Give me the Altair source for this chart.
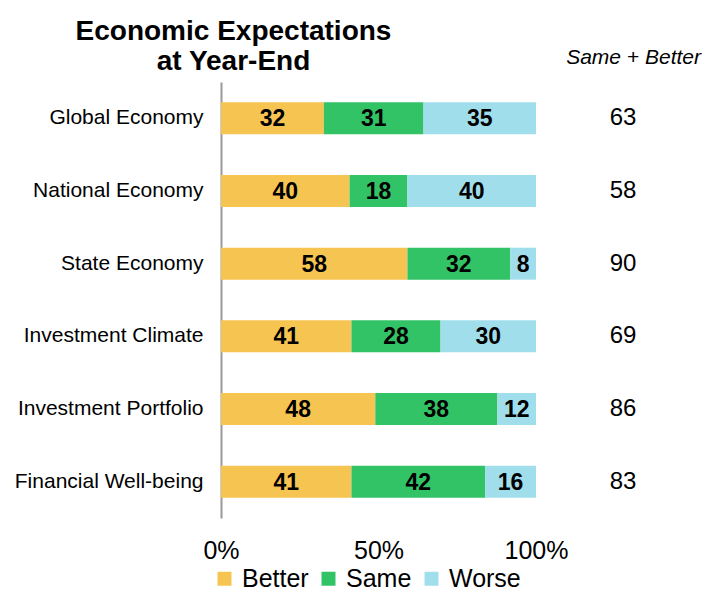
import altair as alt
import pandas as pd

categories = ["Global Economy", "National Economy", "State Economy",
              "Investment Climate", "Investment Portfolio", "Financial Well-being"]
series = ["Better", "Same", "Worse"]
colors = ["#F6C451", "#33C367", "#A0DEEC"]
better = [32, 40, 58, 41, 48, 41]
same = [31, 18, 32, 28, 38, 42]
worse = [35, 40, 8, 30, 12, 16]
same_plus_better = [63, 58, 90, 69, 86, 83]
title_lines = ["Economic Expectations", "at Year-End"]
column_header = "Same + Better"

rows = []
for i, c in enumerate(categories):
    for j, (s, vals) in enumerate(zip(series, [better, same, worse])):
        rows.append({"category": c, "series": s, "order": j, "value": vals[i]})
df = pd.DataFrame(rows)
df_sum = pd.DataFrame({"category": categories, "total": same_plus_better})
df_head = pd.DataFrame({"t": [column_header]})

FONT = "Liberation Sans"

y_enc = alt.Y(
    "category:N", sort=categories, title=None,
    scale=alt.Scale(paddingInner=0.56, paddingOuter=0.28),
    axis=alt.Axis(domain=True, domainColor="#999999", domainWidth=2, ticks=False,
                  labelFontSize=21, labelColor="#000000", labelPadding=18,
                  labelFont=FONT, grid=False, labelLimit=300),
)
x_scale = alt.Scale(domain=[0, 1], nice=False, zero=True)
x_axis = alt.Axis(values=[0, 0.5, 1], format=".0%", domain=False, ticks=False, grid=False,
                  labelFontSize=25, labelColor="#000000", labelPadding=20, labelFont=FONT,
                  labelFlush=False)

base = alt.Chart(df).transform_stack(
    stack="value", as_=["x0", "x1"], groupby=["category"], offset="normalize",
    sort=[alt.SortField("order", order="ascending")],
)

bars = base.mark_bar(strokeWidth=0).encode(
    x=alt.X("x0:Q", scale=x_scale, axis=x_axis, title=None),
    x2="x1:Q",
    y=y_enc,
    color=alt.Color(
        "series:N", scale=alt.Scale(domain=series, range=colors),
        legend=alt.Legend(orient="none", direction="horizontal", legendX=-9, legendY=484,
                          title=None, symbolType="square", symbolSize=196,
                          symbolStrokeWidth=0, labelFontSize=25, labelFont=FONT,
                          labelColor="#000000", labelOffset=5, columnPadding=7),
    ),
    order=alt.Order("order:Q"),
)

labels = base.transform_calculate(mid="(datum.x0 + datum.x1) / 2").mark_text(
    fontSize=23, fontWeight="bold", color="#000000", font=FONT, baseline="middle", dy=1
).encode(
    x=alt.X("mid:Q", scale=x_scale, axis=x_axis, title=None),
    y=y_enc,
    text="value:Q",
)

totals = alt.Chart(df_sum).mark_text(
    fontSize=24, color="#000000", font=FONT, baseline="middle", align="center"
).encode(
    x=alt.value(402),
    y=y_enc,
    text="total:Q",
)

header = alt.Chart(df_head).mark_text(
    fontSize=21, fontStyle="italic", color="#000000", font=FONT, align="right", baseline="middle"
).encode(
    x=alt.value(480), y=alt.value(-24), text="t:N"
)

chart = alt.layer(bars, labels, totals, header).properties(
    width=315, height=436,
    title=alt.TitleParams(text=title_lines, fontSize=28, fontWeight="bold", font=FONT,
                          anchor="middle", dx=-145, dy=39, offset=10, lineHeight=30,
                          color="#000000"),
    autosize=alt.AutoSizeParams(type="none"),
    padding={"left": 213, "top": 74, "right": 166, "bottom": 76},
    view=alt.ViewBackground(stroke="transparent", strokeWidth=0),
).configure_view(stroke="transparent", strokeWidth=0).configure(background="#ffffff")

chart.save("out.html", embed_options={"renderer": "svg", "actions": False})
